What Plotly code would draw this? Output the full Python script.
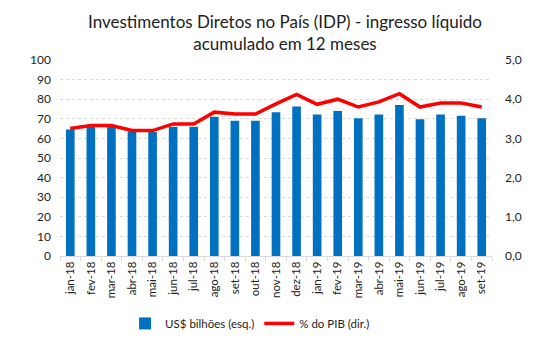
import plotly.graph_objects as go

categories = ["jan-18", "fev-18", "mar-18", "abr-18", "mai-18", "jun-18", "jul-18",
              "ago-18", "set-18", "out-18", "nov-18", "dez-18", "jan-19", "fev-19",
              "mar-19", "abr-19", "mai-19", "jun-19", "jul-19", "ago-19", "set-19"]
usd_bilhoes = [64.5, 66.7, 66.0, 63.7, 63.3, 66.0, 66.0, 71.0, 69.0, 69.0, 73.3,
               76.3, 72.2, 74.0, 70.3, 72.2, 77.0, 69.8, 72.2, 71.5, 70.3]
pct_pib = [3.25, 3.33, 3.33, 3.2, 3.2, 3.37, 3.37, 3.67, 3.62, 3.62, 3.88,
           4.12, 3.87, 4.0, 3.8, 3.93, 4.14, 3.8, 3.9, 3.9, 3.8]

font_family = "Lato, Carlito, 'Liberation Sans', sans-serif"

fig = go.Figure()
fig.add_trace(go.Bar(x=categories, y=usd_bilhoes, name="US$ bilhões (esq.)",
                     marker=dict(color="#0070C0", line=dict(width=0)), yaxis="y"))
fig.add_trace(go.Scatter(x=categories, y=pct_pib, name="% do PIB (dir.)", mode="lines",
                         line=dict(color="#FF0000", width=3.5), yaxis="y2"))

fig.add_annotation(
    text="Investimentos Diretos no País (IDP) - ingresso líquido<br>acumulado em 12 meses",
    xref="paper", yref="paper", x=0.52, y=1.14, xanchor="center", yanchor="middle",
    showarrow=False, align="center",
    font=dict(size=17, family=font_family, color="#222222"))

fig.update_layout(
    width=557, height=350,
    margin=dict(l=60, r=65, t=60, b=90),
    paper_bgcolor="white", plot_bgcolor="white",
    separators=",.",
    font=dict(family=font_family, color="#222222", size=12),
    bargap=0.58,
    showlegend=True,
    legend=dict(orientation="h", x=0.44, xanchor="center", y=-0.27, yanchor="top",
                font=dict(size=11.5, family=font_family), traceorder="normal"),
    xaxis=dict(type="category", tickangle=-90, tickfont=dict(size=11.5),
               showline=True, linecolor="#D9D9D9", linewidth=1,
               ticks="outside", tickson="boundaries", ticklen=4, tickcolor="#D9D9D9",
               showgrid=False),
    yaxis=dict(range=[0, 100], dtick=10, showgrid=True, gridcolor="#D9D9D9",
               griddash="dot", gridwidth=1, zeroline=False, tickfont=dict(size=12),
               ticks="", ticklabelstandoff=8),
    yaxis2=dict(range=[0, 5], dtick=1, tickformat=".1f", overlaying="y", side="right",
                showgrid=False, zeroline=False, tickfont=dict(size=12), ticklabelstandoff=12),
)

fig.write_html("out.html")
